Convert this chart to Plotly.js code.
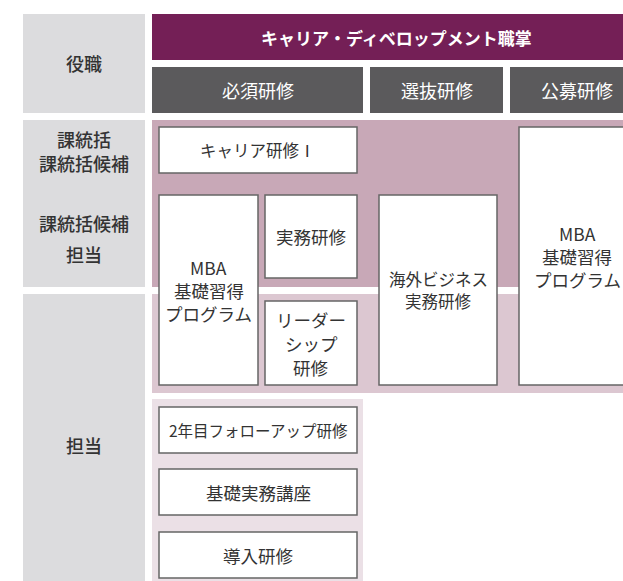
<!DOCTYPE html>
<html>
<head>
<meta charset="utf-8">
<script src="https://cdn.plot.ly/plotly-3.0.1.min.js"></script>
<style>html,body{margin:0;padding:0;background:#fff;}#chart{width:623px;height:581px;}</style>
</head>
<body>
<div id="chart"></div>
<script>
// ---- content (text only) ----
const roleHeader = "役職";
const trackTitle = "キャリア・ディベロップメント職掌";
const categories = ["必須研修", "選抜研修", "公募研修"];
const roleLabels = ["課統括", "課統括候補", "課統括候補", "担当", "担当"];
const mandatoryCourses = ["キャリア研修Ⅰ", "MBA<br>基礎習得<br>プログラム", "実務研修", "リーダー<br>シップ<br>研修", "2年目フォローアップ研修", "基礎実務講座", "導入研修"];
const selectiveCourses = ["海外ビジネス<br>実務研修"];
const openCourses = ["MBA<br>基礎習得<br>プログラム"];

// ---- geometry / styles (layout only) ----
const C = {
  purple: "#741f56", dark: "#5b5a5c", gray: "#dcdcde",
  mauve1: "#c8a8b7", mauve2: "#dcc7d1", mauve3: "#ebe0e6",
  border: "#666666", text: "#333333"
};
const FONT = "Noto Sans CJK JP, Noto Sans, sans-serif";
const roleCol = {x0: 23, x1: 145, cx: 84};
const roleBands = [[14, 113], [120, 287], [294, 581]];
const roleLabelY = [139, 163, 223, 254, 445];
const catBoxes = [[152, 363], [370, 503], [510, 644]];
const bgRegions = [
  {x0: 152, x1: 640, y0: 120, y1: 287, c: C.mauve1},
  {x0: 152, x1: 640, y0: 294, y1: 393, c: C.mauve2},
  {x0: 152, x1: 363, y0: 399, y1: 581, c: C.mauve3}
];
// [x0, x1, y0, y1, fontSize, lineGap]
const mandatoryPos = [
  [159, 357, 127, 173, 16.5, 23], [159, 258, 195, 385, 17.5, 23], [265, 357, 195, 278, 17.5, 23], [265, 357, 301, 385, 17.5, 24],
  [159, 357, 407, 453, 15.5, 23], [159, 357, 469, 515, 17.5, 23], [159, 357, 532, 578, 17.5, 23]
];
const selectivePos = [[379, 497, 195, 385, 16.5, 22]];
const openPos = [[519, 635, 127, 385, 17.5, 23]];

const shapes = [];
const annotations = [];
function rect(x0, x1, y0, y1, fill, line) {
  shapes.push({type: "rect", xref: "x", yref: "y", x0, x1, y0, y1, fillcolor: fill,
    line: line ? {color: line, width: 1.5} : {width: 0}, layer: "below"});
}
function label(text, x, y, size, color, weight) {
  annotations.push({x, y, xref: "x", yref: "y", text: text,
    showarrow: false, xanchor: "center", yanchor: "middle", align: "center",
    font: {family: FONT, size, color, weight: weight || 400}});
}

roleBands.forEach(b => rect(roleCol.x0, roleCol.x1, b[0], b[1], C.gray));
label(roleHeader, roleCol.cx, 63, 18, C.text, 500);
roleLabels.forEach((t, i) => label(t, roleCol.cx, roleLabelY[i], 18, C.text, 500));

rect(152, 640, 14, 60, C.purple);
label(trackTitle, 396, 37, 17, "#ffffff", 700);
categories.forEach((t, i) => {
  const b = catBoxes[i];
  rect(b[0], b[1], 67, 113, C.dark);
  label(t, (b[0] + b[1]) / 2, 90, 18, "#ffffff", 400);
});

bgRegions.forEach(r => rect(r.x0, r.x1, r.y0, r.y1, r.c));

function boxes(names, pos) {
  names.forEach((t, i) => {
    const p = pos[i];
    rect(p[0], p[1], p[2], p[3], "#ffffff", C.border);
    const lines = t.split("<br>");
    const cy = (p[2] + p[3]) / 2;
    lines.forEach((ln, k) => {
      label(ln, (p[0] + p[1]) / 2, cy + (k - (lines.length - 1) / 2) * p[5], p[4], C.text, 400);
    });
  });
}
boxes(mandatoryCourses, mandatoryPos);
boxes(selectiveCourses, selectivePos);
boxes(openCourses, openPos);

Plotly.newPlot("chart", [{x: [0], y: [0], mode: "markers", marker: {opacity: 0}, hoverinfo: "skip", showlegend: false}], {
  width: 623, height: 581,
  margin: {l: 0, r: 0, t: 0, b: 0},
  paper_bgcolor: "#ffffff", plot_bgcolor: "#ffffff",
  xaxis: {range: [0, 623], visible: false, fixedrange: true},
  yaxis: {range: [581, 0], visible: false, fixedrange: true},
  shapes, annotations, showlegend: false
}, {displayModeBar: false, staticPlot: true});
</script>
</body>
</html>
